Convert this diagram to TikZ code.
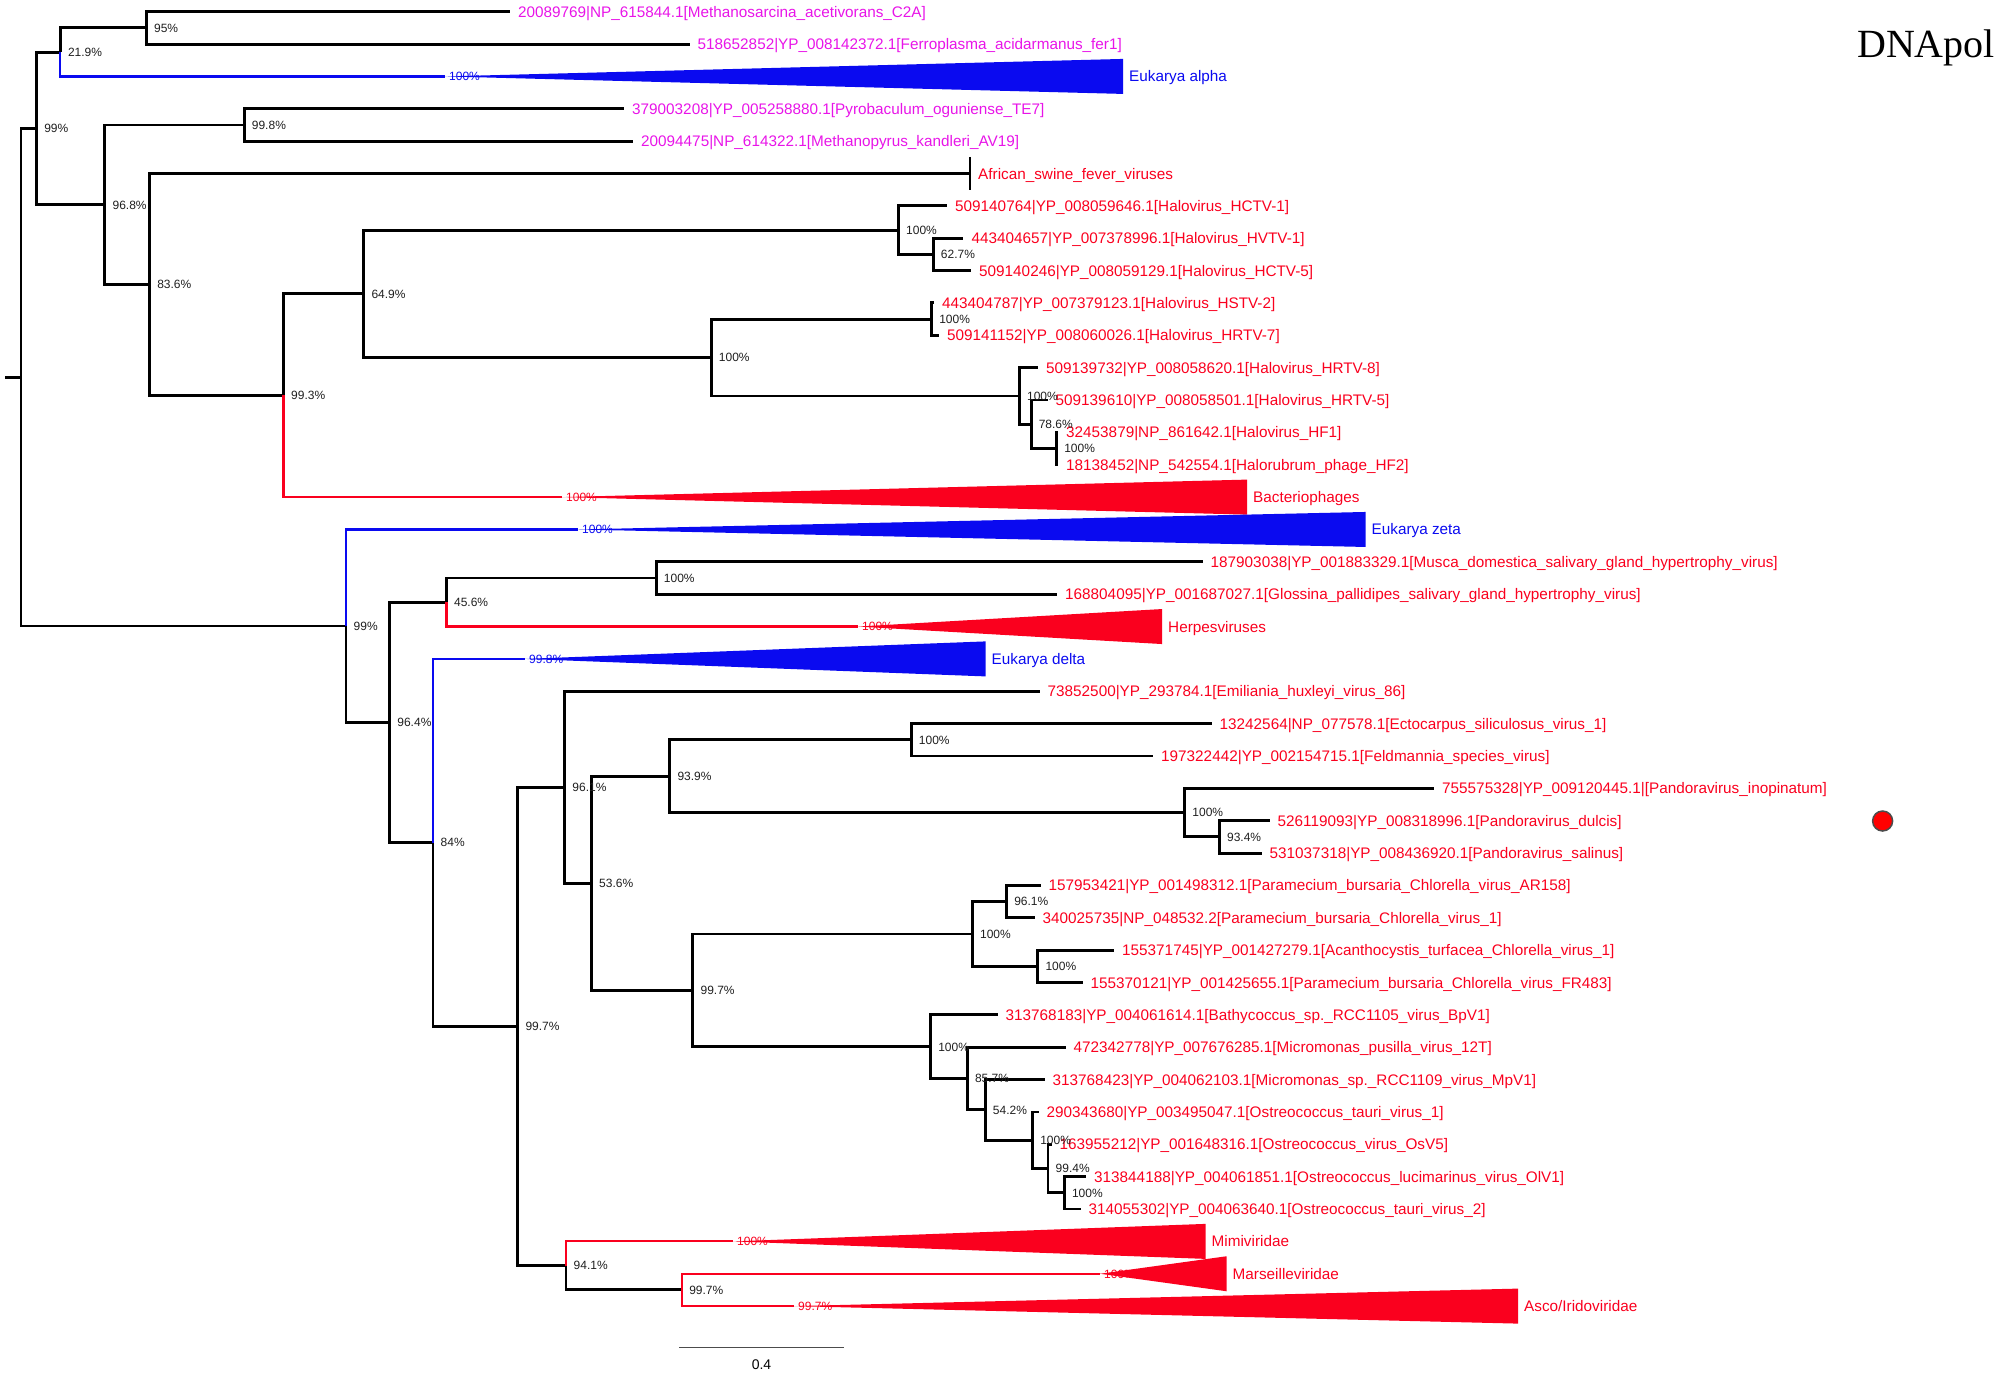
\documentclass[tikz,border=0pt]{standalone}
\usepackage{fontspec}
\newfontfamily\sansLS{Liberation Sans}
\newfontfamily\serifLS{Liberation Serif}
\definecolor{mag}{RGB}{232,20,232}
\definecolor{vred}{RGB}{250,0,30}
\definecolor{vblue}{RGB}{10,10,240}
\newcommand\mkleaf[5]{\coordinate (#1) at (#2,#3);\node[lf,text=#4] (#1l) at ([xshift=8pt]#1) {#5};}
\newcommand\bsl[2]{\node[bs] (#1b) at ([xshift=7.5pt]#1) {#2};}
\newcommand\mkclade[7]{%
  \coordinate (#1) at (#2,#3);
  \node[bs,text=#5] (#1s) at ([xshift=4pt]#1) {#7};
  \fill[#5] (#1) -- ({#4},{#3-17.5}) -- ({#4},{#3+17.5}) -- cycle;
  \node[lf,text=#5] (#1l) at ([xshift=6pt]#4,#3) {#6};}
\begin{document}
\begin{tikzpicture}[x=1pt,y=-1pt,
  br/.style={line width=2.9pt, line join=miter, black},
  brr/.style={line width=2.2pt, vred},
  brb/.style={line width=2.2pt, vblue},
  lf/.style={font=\sansLS\fontsize{15.3}{17}\selectfont, anchor=base west, inner sep=0pt, yshift=-5.5pt},
  bs/.style={font=\sansLS\fontsize{12}{14}\selectfont, anchor=base west, inner sep=0pt, yshift=-4.3pt, text=black!88}]
\useasboundingbox (0,0) rectangle (2000,1376);

% ---------- internal nodes ----------
\coordinate (root) at (21,377.2);
\coordinate (r0) at (5,377.2);
\coordinate (n99top) at (36.6,128.44);
\coordinate (nB219) at (60.3,52.15);
\coordinate (nA95) at (146.4,27.88);
\coordinate (n998) at (244.2,124.96);
\coordinate (n968) at (104.9,204.72);
\coordinate (n836) at (149.6,284.49);
\coordinate (n993) at (283.5,395.47);
\coordinate (n649) at (363.8,293.84);
\coordinate (nHC) at (898.5,230.13);
\coordinate (n627) at (933.2,254.4);
\coordinate (nH) at (711.2,357.55);
\coordinate (nHS) at (931.6,319.12);
\coordinate (nA) at (1019.4,395.98);
\coordinate (nB) at (1031.1,424.29);
\coordinate (nC) at (1056.6,448.56);
\coordinate (n99b) at (346,625.97);
\coordinate (n964) at (389.7,722.48);
\coordinate (n456) at (446.4,602.27);
\coordinate (nMu) at (656.2,578);
\coordinate (n84) at (433,842.68);
\coordinate (n997a) at (517.8,1026.46);
\coordinate (n96x) at (564.7,787.27);
\coordinate (n536) at (591.5,883.27);
\coordinate (n939) at (669.8,776.2);
\coordinate (nEc) at (911.2,739.8);
\coordinate (nPa) at (1184.7,812.61);
\coordinate (n934) at (1219.4,836.88);
\coordinate (n997b) at (692.9,990.34);
\coordinate (nCh) at (972.4,933.96);
\coordinate (n961) at (1006.6,901.6);
\coordinate (nAc) at (1037.8,966.32);
\coordinate (nBa) at (930.6,1046.72);
\coordinate (n857) at (967.3,1078.57);
\coordinate (n542) at (985.2,1109.92);
\coordinate (nZ2) at (1032.6,1140.26);
\coordinate (n994) at (1048,1168.57);
\coordinate (nZ3) at (1064.3,1192.84);
\coordinate (n941) at (566,1265.65);
\coordinate (n997c) at (681.6,1289.92);

% ---------- leaves ----------
\mkleaf{t0}{509.8}{11.7}{mag}{20089769|NP\_615844.1[Methanosarcina\_acetivorans\_C2A]}
\mkleaf{t1}{689.5}{44.06}{mag}{518652852|YP\_008142372.1[Ferroplasma\_acidarmanus\_fer1]}
\mkleaf{t3}{624}{108.78}{mag}{379003208|YP\_005258880.1[Pyrobaculum\_oguniense\_TE7]}
\mkleaf{t4}{633}{141.14}{mag}{20094475|NP\_614322.1[Methanopyrus\_kandleri\_AV19]}
\mkleaf{t5}{970}{173.5}{vred}{African\_swine\_fever\_viruses}
\mkleaf{t6}{947}{205.86}{vred}{509140764|YP\_008059646.1[Halovirus\_HCTV-1]}
\mkleaf{t7}{963.3}{238.22}{vred}{443404657|YP\_007378996.1[Halovirus\_HVTV-1]}
\mkleaf{t8}{971}{270.58}{vred}{509140246|YP\_008059129.1[Halovirus\_HCTV-5]}
\mkleaf{t9}{934}{302.94}{vred}{443404787|YP\_007379123.1[Halovirus\_HSTV-2]}
\mkleaf{t10}{939}{335.3}{vred}{509141152|YP\_008060026.1[Halovirus\_HRTV-7]}
\mkleaf{t11}{1038}{367.66}{vred}{509139732|YP\_008058620.1[Halovirus\_HRTV-8]}
\mkleaf{t12}{1047.5}{400.02}{vred}{509139610|YP\_008058501.1[Halovirus\_HRTV-5]}
\mkleaf{t13}{1058}{432.38}{vred}{32453879|NP\_861642.1[Halovirus\_HF1]}
\mkleaf{t14}{1058}{464.74}{vred}{18138452|NP\_542554.1[Halorubrum\_phage\_HF2]}
\mkleaf{t17}{1202.5}{561.82}{vred}{187903038|YP\_001883329.1[Musca\_domestica\_salivary\_gland\_hypertrophy\_virus]}
\mkleaf{t18}{1057}{594.18}{vred}{168804095|YP\_001687027.1[Glossina\_pallidipes\_salivary\_gland\_hypertrophy\_virus]}
\mkleaf{t21}{1039.5}{691.26}{vred}{73852500|YP\_293784.1[Emiliania\_huxleyi\_virus\_86]}
\mkleaf{t22}{1211.5}{723.62}{vred}{13242564|NP\_077578.1[Ectocarpus\_siliculosus\_virus\_1]}
\mkleaf{t23}{1153}{755.98}{vred}{197322442|YP\_002154715.1[Feldmannia\_species\_virus]}
\mkleaf{t24}{1434}{788.34}{vred}{755575328|YP\_009120445.1|[Pandoravirus\_inopinatum]}
\mkleaf{t25}{1269.5}{820.7}{vred}{526119093|YP\_008318996.1[Pandoravirus\_dulcis]}
\mkleaf{t26}{1261.5}{853.06}{vred}{531037318|YP\_008436920.1[Pandoravirus\_salinus]}
\mkleaf{t27}{1040.5}{885.42}{vred}{157953421|YP\_001498312.1[Paramecium\_bursaria\_Chlorella\_virus\_AR158]}
\mkleaf{t28}{1034.5}{917.78}{vred}{340025735|NP\_048532.2[Paramecium\_bursaria\_Chlorella\_virus\_1]}
\mkleaf{t29}{1114}{950.14}{vred}{155371745|YP\_001427279.1[Acanthocystis\_turfacea\_Chlorella\_virus\_1]}
\mkleaf{t30}{1082.5}{982.5}{vred}{155370121|YP\_001425655.1[Paramecium\_bursaria\_Chlorella\_virus\_FR483]}
\mkleaf{t31}{997.5}{1014.86}{vred}{313768183|YP\_004061614.1[Bathycoccus\_sp.\_RCC1105\_virus\_BpV1]}
\mkleaf{t32}{1065.5}{1047.22}{vred}{472342778|YP\_007676285.1[Micromonas\_pusilla\_virus\_12T]}
\mkleaf{t33}{1044.5}{1079.58}{vred}{313768423|YP\_004062103.1[Micromonas\_sp.\_RCC1109\_virus\_MpV1]}
\mkleaf{t34}{1038.5}{1111.94}{vred}{290343680|YP\_003495047.1[Ostreococcus\_tauri\_virus\_1]}
\mkleaf{t35}{1051.5}{1144.3}{vred}{163955212|YP\_001648316.1[Ostreococcus\_virus\_OsV5]}
\mkleaf{t36}{1086}{1176.66}{vred}{313844188|YP\_004061851.1[Ostreococcus\_lucimarinus\_virus\_OlV1]}
\mkleaf{t37}{1080.5}{1209.02}{vred}{314055302|YP\_004063640.1[Ostreococcus\_tauri\_virus\_2]}

% ---------- black branches ----------
\draw[br] (r0) -- (root);
\draw[br] (root) |- (n99top);
\draw[br] (root) |- (n99b);
\draw[br] (n99top) |- (nB219);
\draw[br] (n99top) |- (n968);
\draw[br] (nB219) |- (nA95);
\draw[br] (nA95) |- (t0);
\draw[br] (nA95) |- (t1);
\draw[br] (n968) |- (n998);
\draw[br] (n968) |- (n836);
\draw[br] (n998) |- (t3);
\draw[br] (n998) |- (t4);
\draw[br] (n836) |- (t5);
\draw[br] ([yshift=16.7pt]t5) -- ([yshift=-16.7pt]t5);
\draw[br] (n836) |- (n993);
\draw[br] (n993) |- (n649);
\draw[br] (n649) |- (nHC);
\draw[br] (n649) |- (nH);
\draw[br] (nHC) |- (t6);
\draw[br] (nHC) |- (n627);
\draw[br] (n627) |- (t7);
\draw[br] (n627) |- (t8);
\draw[br] (nH) |- (nHS);
\draw[br] (nH) |- (nA);
\draw[br] (nHS) |- (t9);
\draw[br] (nHS) |- (t10);
\draw[br] (nA) |- (t11);
\draw[br] (nA) |- (nB);
\draw[br] (nB) |- (t12);
\draw[br] (nB) |- (nC);
\draw[br] (nC) |- (t13);
\draw[br] (nC) |- (t14);
\draw[br] (n99b) |- (n964);
\draw[br] (n964) |- (n456);
\draw[br] (n964) |- (n84);
\draw[br] (n456) |- (nMu);
\draw[br] (nMu) |- (t17);
\draw[br] (nMu) |- (t18);
\draw[br] (n84) |- (n997a);
\draw[br] (n997a) |- (n96x);
\draw[br] (n997a) |- (n941);
\draw[br] (n96x) |- (t21);
\draw[br] (n96x) |- (n536);
\draw[br] (n536) |- (n939);
\draw[br] (n536) |- (n997b);
\draw[br] (n939) |- (nEc);
\draw[br] (n939) |- (nPa);
\draw[br] (nEc) |- (t22);
\draw[br] (nEc) |- (t23);
\draw[br] (nPa) |- (t24);
\draw[br] (nPa) |- (n934);
\draw[br] (n934) |- (t25);
\draw[br] (n934) |- (t26);
\draw[br] (n997b) |- (nCh);
\draw[br] (n997b) |- (nBa);
\draw[br] (nCh) |- (n961);
\draw[br] (nCh) |- (nAc);
\draw[br] (n961) |- (t27);
\draw[br] (n961) |- (t28);
\draw[br] (nAc) |- (t29);
\draw[br] (nAc) |- (t30);
\draw[br] (nBa) |- (t31);
\draw[br] (nBa) |- (n857);
\draw[br] (n857) |- (t32);
\draw[br] (n857) |- (n542);
\draw[br] (n542) |- (t33);
\draw[br] (n542) |- (nZ2);
\draw[br] (nZ2) |- (t34);
\draw[br] (nZ2) |- (n994);
\draw[br] (n994) |- (t35);
\draw[br] (n994) |- (nZ3);
\draw[br] (nZ3) |- (t36);
\draw[br] (nZ3) |- (t37);
\draw[br] (n941) |- (n997c);

% ---------- collapsed clades ----------
\mkclade{a2}{445}{76.42}{1123}{vblue}{Eukarya alpha}{100\%}
\mkclade{a15}{562}{497.1}{1247}{vred}{Bacteriophages}{100\%}
\mkclade{a16}{578}{529.46}{1365.5}{vblue}{Eukarya zeta}{100\%}
\mkclade{a19}{858}{626.54}{1162}{vred}{Herpesviruses}{100\%}
\mkclade{a20}{525}{658.9}{985.5}{vblue}{Eukarya delta}{99.8\%}
\mkclade{a38}{733}{1241.38}{1205.5}{vred}{Mimiviridae}{100\%}
\mkclade{a39}{1100}{1273.74}{1226.5}{vred}{Marseilleviridae}{100\%}
\mkclade{a40}{794}{1306.1}{1518}{vred}{Asco/Iridoviridae}{99.7\%}

% ---------- coloured branches ----------
\draw[brb] (nB219) |- (a2);
\draw[brr] (n993) |- (a15);
\draw[brb] (n99b) |- (a16);
\draw[brr] (n456) |- (a19);
\draw[brb] (n84) |- (a20);
\draw[brr] (n941) |- (a38);
\draw[brr] (n997c) |- (a39);
\draw[brr] (n997c) |- (a40);

% ---------- support values ----------
\bsl{n99top}{99\%}
\bsl{nB219}{21.9\%}
\bsl{nA95}{95\%}
\bsl{n998}{99.8\%}
\bsl{n968}{96.8\%}
\bsl{n836}{83.6\%}
\bsl{n649}{64.9\%}
\bsl{n993}{99.3\%}
\bsl{nHC}{100\%}
\bsl{n627}{62.7\%}
\bsl{nHS}{100\%}
\bsl{nH}{100\%}
\bsl{nA}{100\%}
\bsl{nB}{78.6\%}
\bsl{nC}{100\%}
\bsl{n99b}{99\%}
\bsl{n456}{45.6\%}
\bsl{nMu}{100\%}
\bsl{n964}{96.4\%}
\bsl{n84}{84\%}
\bsl{n96x}{96.1\%}
\bsl{n536}{53.6\%}
\bsl{n939}{93.9\%}
\bsl{nEc}{100\%}
\bsl{nPa}{100\%}
\bsl{n934}{93.4\%}
\bsl{n961}{96.1\%}
\bsl{nCh}{100\%}
\bsl{nAc}{100\%}
\bsl{n997b}{99.7\%}
\bsl{n997a}{99.7\%}
\bsl{nBa}{100\%}
\bsl{n857}{85.7\%}
\bsl{n542}{54.2\%}
\bsl{nZ2}{100\%}
\bsl{n994}{99.4\%}
\bsl{nZ3}{100\%}
\bsl{n941}{94.1\%}
\bsl{n997c}{99.7\%}

% ---------- title, marker, scale ----------
\node[font=\serifLS\fontsize{40}{44}\selectfont, anchor=base west, inner sep=0pt] (title) at (1857,57.3) {DNApol};
\node[circle, fill=red, draw=gray!60!black, line width=1.5pt, minimum size=20pt, inner sep=0pt] (dot) at (1882.6,821) {};
\coordinate (s0) at (679,1347.3);
\coordinate (s1) at (844,1347.3);
\draw[line width=1.5pt, black!70] (s0) -- (s1);
\node[font=\sansLS\fontsize{14}{16}\selectfont, anchor=base, inner sep=0pt] (scl) at (761.5,1369) {0.4};
\end{tikzpicture}
\end{document}
